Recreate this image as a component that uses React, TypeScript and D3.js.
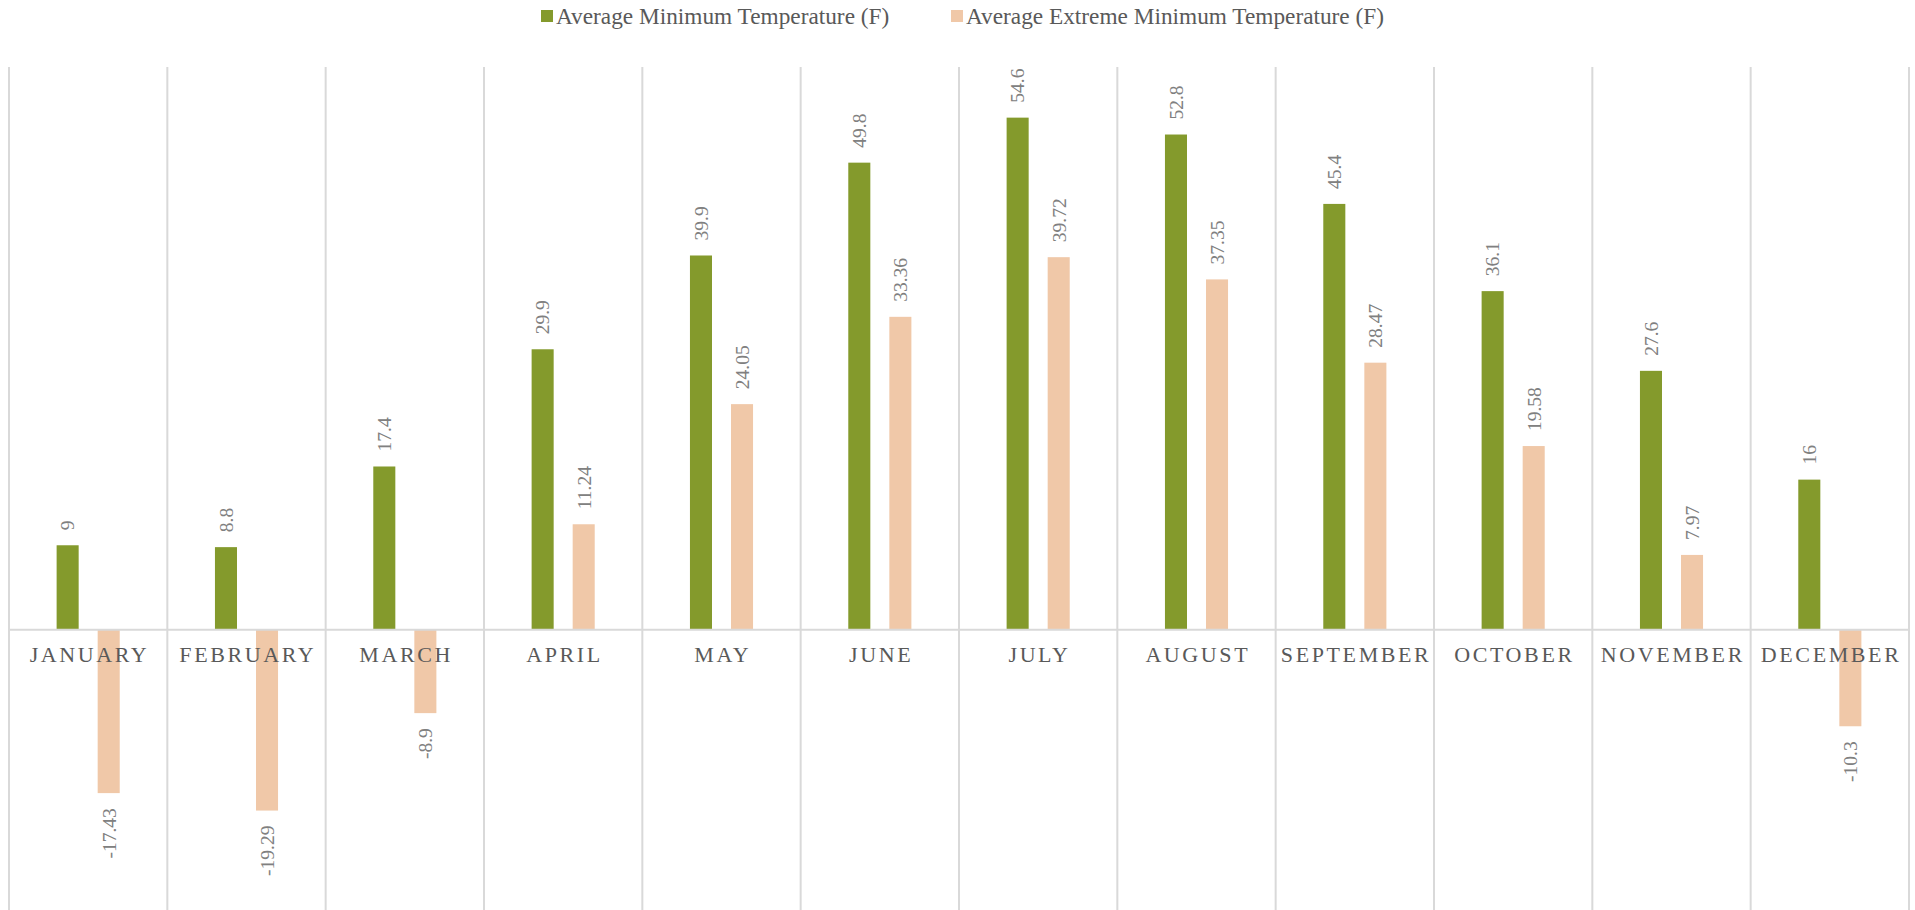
import React, { useEffect } from "react";
import * as d3 from "d3";

const months = [
  "JANUARY", "FEBRUARY", "MARCH", "APRIL", "MAY", "JUNE",
  "JULY", "AUGUST", "SEPTEMBER", "OCTOBER", "NOVEMBER", "DECEMBER",
];
const avgMin = [9, 8.8, 17.4, 29.9, 39.9, 49.8, 54.6, 52.8, 45.4, 36.1, 27.6, 16];
const avgExtremeMin = [-17.43, -19.29, -8.9, 11.24, 24.05, 33.36, 39.72, 37.35, 28.47, 19.58, 7.97, -10.3];
const seriesNames = [
  "Average Minimum Temperature (F)",
  "Average Extreme Minimum Temperature (F)",
];
const seriesColors = ["#849a2c", "#f0c8a8"];

const W = 1915;
const H = 910;
const FONT = "'Liberation Serif', 'Times New Roman', serif";

const App = () => {
  useEffect(() => {
    document.body.style.margin = "0";
  }, []);

  const x = d3.scaleBand().domain(months).range([9, 1909]).padding(0);
  const inner = d3
    .scaleBand()
    .domain(["min", "ext"])
    .range([0, x.bandwidth()])
    .paddingInner(0.463)
    .paddingOuter(1.16);
  const y = d3.scaleLinear().domain([-30, 60]).range([911, 67]);

  const rows = months.map((m, i) => ({ m, min: avgMin[i], ext: avgExtremeMin[i] }));
  const keys = ["min", "ext"];
  const fmt = (v) => String(v);

  return (
    <svg width={W} height={H} style={{ display: "block", background: "#fff" }}>
      {/* legend */}
      <g fontFamily={FONT} fontSize={23.3} fill="#595959">
        <rect x={541} y={10} width={12} height={12} fill={seriesColors[0]} />
        <text x={556} y={16} dy="0.35em">{seriesNames[0]}</text>
        <rect x={951} y={10} width={12} height={12} fill={seriesColors[1]} />
        <text x={966} y={16} dy="0.35em">{seriesNames[1]}</text>
      </g>

      {/* vertical grid lines */}
      <g stroke="#d9d9d9" strokeWidth={2}>
        {months.map((m) => (
          <line key={m} x1={x(m)} x2={x(m)} y1={y(60)} y2={H} />
        ))}
        <line x1={x.range()[1]} x2={x.range()[1]} y1={y(60)} y2={H} />
      </g>

      {/* bars */}
      {rows.map((d) => (
        <g key={d.m} transform={`translate(${x(d.m)},0)`}>
          {keys.map((k, j) => {
            const v = d[k];
            const bx = inner(k);
            const top = Math.min(y(v), y(0));
            const h = Math.abs(y(v) - y(0));
            return (
              <rect key={k} x={bx} y={top} width={inner.bandwidth()} height={h} fill={seriesColors[j]} />
            );
          })}
        </g>
      ))}

      {/* zero axis */}
      <line x1={x.range()[0]} x2={x.range()[1]} y1={y(0)} y2={y(0)} stroke="#d9d9d9" strokeWidth={2} />

      {/* category labels */}
      <g fontFamily={FONT} fontSize={22} fill="#595959" textAnchor="middle">
        {months.map((m) => (
          <text key={m} x={x(m) + x.bandwidth() / 2 + 1.3} y={662} letterSpacing={2.6}>
            {m}
          </text>
        ))}
      </g>

      {/* data labels */}
      <g fontFamily={FONT} fontSize={19.5} fill="#808080">
        {rows.map((d) =>
          keys.map((k) => {
            const v = d[k];
            const cx = x(d.m) + inner(k) + inner.bandwidth() / 2;
            const ly = v >= 0 ? y(v) - 15 : y(v) + 15;
            return (
              <text
                key={d.m + k}
                transform={`translate(${cx},${ly}) rotate(-90)`}
                textAnchor={v >= 0 ? "start" : "end"}
                dy="0.35em"
              >
                {fmt(v)}
              </text>
            );
          })
        )}
      </g>
    </svg>
  );
};

export default App;
